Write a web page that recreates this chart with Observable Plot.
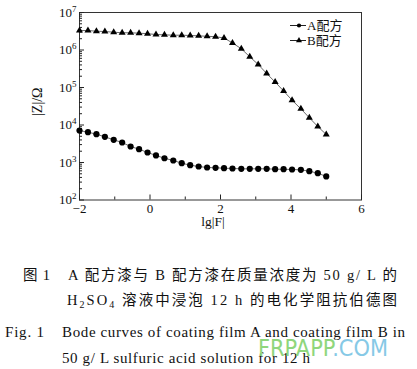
<!DOCTYPE html>
<html><head><meta charset="utf-8">
<script src="https://cdn.jsdelivr.net/npm/d3@7"></script>
<script src="https://cdn.jsdelivr.net/npm/@observablehq/plot@0.6"></script>
<style>
body{margin:0;background:#fff;width:417px;height:369px;overflow:hidden;}
#wrap{width:417px;height:369px;}
svg{display:block;}
</style></head><body><div id="wrap"></div>
<script>
// lg|F| values of the measured points
const lgF = [-2, -1.76, -1.52, -1.28, -1.03, -0.79, -0.55, -0.31, -0.07, 0.17,
  0.41, 0.66, 0.90, 1.14, 1.38, 1.62, 1.86, 2.10, 2.34, 2.59,
  2.83, 3.07, 3.31, 3.55, 3.79, 4.03, 4.28, 4.52, 4.76, 5.00];
// |Z| of coating A (Ω)
const zA = [7130, 6430, 5690, 4840, 4030, 3410, 2670, 2260, 1850, 1540,
  1300, 1130, 958, 847, 782, 736, 722, 705, 692, 679,
  679, 679, 679, 662, 662, 650, 638, 586, 519, 424];
// |Z| of coating B (Ω)
const zB = [3.31e6, 3.31e6, 3.17e6, 3.11e6, 2.98e6, 2.88e6, 2.88e6, 2.81e6, 2.72e6, 2.59e6,
  2.54e6, 2.48e6, 2.48e6, 2.44e6, 2.39e6, 2.32e6, 2.26e6, 2.09e6, 1.54e6, 1.08e6,
  6.59e5, 4.11e5, 2.36e5, 1.40e5, 8.07e4, 4.58e4, 2.70e4, 1.56e4, 9.12e3, 5.58e3];
const seriesNames = ["A配方", "B配方"];
const xTicks = [-2, 0, 2, 4, 6];
const xMinor = [-1, 1, 3, 5];
const yTicks = [1e2, 1e3, 1e4, 1e5, 1e6, 1e7];
const yMinor = [2,3,4,5,6,7,8,9].flatMap(m => [1e2,1e3,1e4,1e5,1e6].map(d => m * d));

const W = 417, H = 240, mL = 79, mR = 56, mT = 12, mB = 40.5;
const pw = W - mL - mR, ph = H - mT - mB;

const data = lgF.flatMap((x, i) => [
  {x, z: zA[i], s: seriesNames[0]},
  {x, z: zB[i], s: seriesNames[1]}
]);
const A = data.filter(d => d.s === seriesNames[0]);
const B = data.filter(d => d.s === seriesNames[1]);

const serif = "'Liberation Serif','DejaVu Serif','Noto Sans CJK SC',serif";

const plot = Plot.plot({
  width: W, height: H,
  marginLeft: mL, marginRight: mR, marginTop: mT, marginBottom: mB,
  style: {fontFamily: serif, fontSize: "13px", color: "#111", background: "#fff"},
  x: {domain: [-2, 6]},
  y: {type: "log", domain: [1e2, 1e7]},
  marks: [
    Plot.frame({stroke: "#333", strokeWidth: 1}),
    Plot.tickX(xTicks, {x: d => d, insetTop: ph - 5, stroke: "#222"}),
    Plot.tickX(xMinor, {x: d => d, insetTop: ph - 3, stroke: "#222"}),
    Plot.tickY(yTicks, {y: d => d, insetRight: pw - 5, stroke: "#222"}),
    Plot.tickY(yMinor, {y: d => d, insetRight: pw - 3, stroke: "#222"}),
    Plot.axisX({ticks: xTicks, tickSize: 0, tickPadding: 4,
      tickFormat: d => d < 0 ? "−" + Math.abs(d) : String(d), label: null}),
    Plot.axisY({ticks: yTicks, tickSize: 0, tickPadding: 3,
      tickFormat: d => "10^" + Math.round(Math.log10(d)), label: null}),
    Plot.line(A, {x: "x", y: "z", stroke: "#444", strokeWidth: 0.8}),
    Plot.line(B, {x: "x", y: "z", stroke: "#444", strokeWidth: 0.8}),
    Plot.dot(A, {x: "x", y: "z", r: 3.1, fill: "#000", stroke: "none"}),
    Plot.dot(B, {x: "x", y: "z", r: 2.6, symbol: "triangle", fill: "#000", stroke: "none"})
  ]
});

const wrap = document.getElementById("wrap");
wrap.appendChild(plot);
const svg = d3.select(plot);

// superscript exponents on y tick labels
svg.selectAll('g[aria-label="y-axis tick label"] text').each(function() {
  const t = d3.select(this);
  const s = t.text();
  const [base, exp] = s.split("^");
  t.text(null);
  t.append("tspan").text(base);
  t.append("tspan").attr("dy", "-0.55em").attr("font-size", "9px").text(exp);
});

const xs = plot.scale("x"), ys = plot.scale("y");
// axis labels
svg.append("text").attr("x", (xs.range[0] + xs.range[1]) / 2 - 7).attr("y", 226)
  .attr("text-anchor", "middle").attr("font-family", serif).attr("font-size", 13.5).attr("fill", "#111")
  .text("lg|F|");

svg.append("text").attr("transform", `translate(42,${(ys.range[0] + ys.range[1]) / 2 - 4}) rotate(-90)`)
  .attr("text-anchor", "middle").attr("font-family", serif).attr("font-size", 14).attr("fill", "#111")
  .text("|Z|/Ω");

// legend
const lg = svg.append("g").attr("font-family", serif).attr("font-size", 13).attr("fill", "#111")
  .attr("text-anchor", "start");
[[seriesNames[0], 25.5, "circle"], [seriesNames[1], 40.5, "triangle"]].forEach(([name, y, sym]) => {
  lg.append("line").attr("x1", 290).attr("x2", 306).attr("y1", y).attr("y2", y).attr("stroke", "#222").attr("stroke-width", 1);
  lg.append("path").attr("transform", `translate(299,${y})`)
    .attr("d", d3.symbol(sym === "circle" ? d3.symbolCircle : d3.symbolTriangle, sym === "circle" ? 14 : 16)())
    .attr("fill", "#000");
  lg.append("text").attr("x", 307).attr("y", y + 4.5).attr("text-anchor", "start").text(name);
});

// caption
const cap = d3.select(wrap).append("svg").attr("width", W).attr("height", 369 - H)
  .attr("font-family", serif).attr("fill", "#111");
const cn = 14.5, en = 15;
function line(x, y, len, size, txt) {
  return cap.append("text").attr("x", x).attr("y", y).attr("font-size", size)
    .attr("textLength", len).attr("lengthAdjust", "spacing").text(txt);
}
line(23, 40, 27, cn, "图 1");
line(68, 40, 329, cn, "A 配方漆与 B 配方漆在质量浓度为 50 g/ L 的");
const l2 = cap.append("text").attr("x", 67).attr("y", 65).attr("font-size", cn)
  .attr("textLength", 330).attr("lengthAdjust", "spacing");
l2.append("tspan").text("H");
l2.append("tspan").attr("dy", 3).attr("font-size", 10).text("2");
l2.append("tspan").attr("dy", -3).text("SO");
l2.append("tspan").attr("dy", 3).attr("font-size", 10).text("4");
l2.append("tspan").attr("dy", -3).text(" 溶液中浸泡 12 h 的电化学阻抗伯德图");
line(5, 97, 39, en, "Fig. 1");
line(62, 97, 343, en, "Bode curves of coating film A and coating film B in");
line(62, 123, 248, en, "50 g/ L sulfuric acid solution for 12 h");
const wm = cap.append("text").attr("x", 258).attr("y", 116).attr("font-size", 23)
  .attr("font-family", "'DejaVu Sans','Noto Sans',sans-serif")
  .attr("textLength", 130).attr("lengthAdjust", "spacingAndGlyphs");
wm.append("tspan").attr("fill", "#8fd67c").text("FRPAPP");
wm.append("tspan").attr("fill", "#86c9e6").text(".COM");
</script></body></html>
